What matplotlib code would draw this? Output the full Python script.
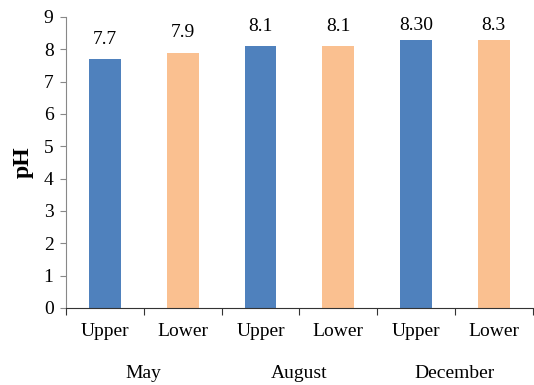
import matplotlib.pyplot as plt
import matplotlib.transforms as mtransforms
import numpy as np

plt.rcParams['font.family'] = ['Liberation Serif', 'DejaVu Serif']

months = ["May", "August", "December"]
layers = ["Upper", "Lower", "Upper", "Lower", "Upper", "Lower"]
ph = [7.7, 7.9, 8.1, 8.1, 8.3, 8.3]
ph_labels = ["7.7", "7.9", "8.1", "8.1", "8.30", "8.3"]
colors = ["#4F81BD", "#FAC090"] * 3
label_lift = [8, 8, 8, 8, 4, 4]  # points above each bar

fig = plt.figure(figsize=(5.34, 3.85), dpi=100)
ax = fig.add_axes([0.1236, 0.2, 0.874, 0.756])

x = np.arange(len(ph))
ax.bar(x, ph, width=0.41, color=colors)

for xi, val, txt, dy in zip(x, ph, ph_labels, label_lift):
    ax.annotate(txt, (xi, val), xytext=(0, dy), textcoords='offset points',
                ha='center', va='bottom', fontsize=14)

ax.set_xlim(-0.5, len(ph) - 0.5)
ax.set_ylim(0, 9)
ax.set_yticks(range(10))
ax.tick_params(axis='y', labelsize=14, length=4, color='#888888', pad=5)

# ticks sit between the bars, labels are placed by hand under each bar
ax.set_xticks(np.arange(-0.5, len(ph), 1.0))
ax.set_xticklabels([])
ax.tick_params(axis='x', length=5, color='#333333')

trans = mtransforms.blended_transform_factory(ax.transData, fig.transFigure)
for xi, name in zip(x, layers):
    ax.text(xi, 1 - 331 / 385, name, transform=trans, ha='center', va='center', fontsize=14)
for i, m in enumerate(months):
    ax.text(2 * i + 0.5, 1 - 373 / 385, m, transform=trans, ha='center', va='center', fontsize=14)

for s in ['top', 'right']:
    ax.spines[s].set_visible(False)
ax.spines['left'].set_color('#888888')
ax.spines['bottom'].set_color('#333333')

ax.set_ylabel('pH', fontsize=17, fontweight='bold', labelpad=7)

fig.savefig('out.png', dpi=100)
